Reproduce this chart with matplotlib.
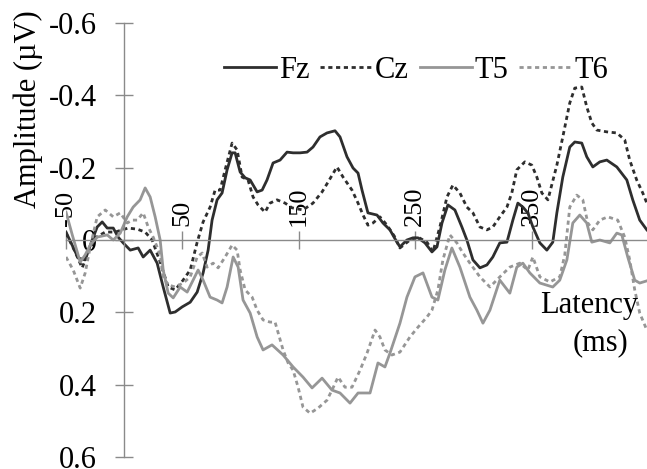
import matplotlib
matplotlib.use("Agg")
import matplotlib.pyplot as plt

plt.rcParams["font.family"] = ["Liberation Serif", "DejaVu Serif"]
plt.rcParams["axes.unicode_minus"] = False

# latency (ms) and amplitude (uV)
fz_ms = [-50, -39.5, -33.5, -27.5, -23.2, -18.9, -14.6, -9.4, -5.2, -0.9, 5.2, 12, 16.3,
         22.3, 28.3, 33.5, 39.5, 43.8, 49.8, 56.7, 62.7, 67.8, 72.1, 75.5, 79.8, 84.1,
         88.4, 92.7, 95.3, 99.6, 103.9, 108.2, 114.2, 118.5, 122.7, 127.9, 133.9, 139.9,
         145.1, 151.1, 157.1, 162.2, 168.2, 174.2, 181.1, 185.4, 191.4, 196.6, 200.9,
         204.3, 209.4, 217.2, 222.3, 228.3, 234.3, 236.9, 242.9, 248.1, 252.4, 258.4,
         264.4, 268.7, 273, 278.1, 284.1, 290.1, 294.4, 299.6, 305.6, 311.6, 316.7,
         322.7, 328.8, 333.9, 338.2, 342.5, 346.8, 351.1, 357.1, 363.1, 368.2, 371.7,
         376.8, 382.8, 387.1, 393.1, 397.4, 402.6, 408.6, 414.6, 423.2, 431.8, 436.9,
         442.9, 449]
fz_uv = [-0.022, 0.050, 0.055, 0.000, -0.036, -0.050, -0.033, -0.033, -0.008, 0.008,
         0.028, 0.022, 0.047, 0.028, 0.064, 0.130, 0.202, 0.199, 0.185, 0.172, 0.144,
         0.091, 0.028, -0.055, -0.111, -0.130, -0.194, -0.241, -0.241, -0.188, -0.172,
         -0.166, -0.133, -0.138, -0.166, -0.213, -0.221, -0.243, -0.241, -0.241, -0.243,
         -0.257, -0.285, -0.296, -0.302, -0.285, -0.230, -0.199, -0.185, -0.138, -0.075,
         -0.069, -0.047, -0.028, 0.006, 0.019, 0.000, -0.006, -0.006, 0.008, 0.033,
         0.019, -0.047, -0.097, -0.083, -0.036, 0.000, 0.055, 0.077, 0.069, 0.047,
         0.008, 0.006, -0.055, -0.102, -0.091, -0.075, -0.036, 0.008, 0.028, 0.006,
         -0.075, -0.174, -0.257, -0.271, -0.268, -0.230, -0.202, -0.216, -0.221, -0.202,
         -0.166, -0.111, -0.055, -0.028]

cz_ms = [-50, -42.9, -36.1, -30.9, -24.9, -16.3, -7.7, -1.7, 3.4, 11.2, 18, 24, 30.9,
         37.8, 43.8, 50.6, 56.7, 62.7, 67.8, 73.8, 78.1, 82.4, 86.7, 92.7, 97, 101.3,
         106.4, 110.7, 115, 121, 125.3, 131.3, 138.2, 144.2, 153.6, 162.2, 170, 175.1,
         182.8, 188, 195.7, 200.9, 205.2, 209.4, 213.7, 219.7, 225.8, 232.6, 236.9,
         245.5, 252.4, 260.1, 265.2, 271.2, 277.3, 282.4, 288.4, 294.4, 299.6, 305.6,
         311.6, 316.7, 322.7, 328.8, 333, 337.3, 344.2, 350.2, 354.5, 358.8, 364,
         371.7, 376.8, 382.8, 387.1, 393.1, 397.4, 401.7, 406, 414.6, 423.2, 430,
         434.3, 440.3, 445.5, 449]
cz_uv = [-0.019, 0.028, 0.077, 0.033, -0.006, -0.022, -0.022, -0.028, -0.033, -0.030,
         -0.022, 0.000, 0.061, 0.130, 0.138, 0.111, 0.083, 0.006, -0.050, -0.091,
         -0.138, -0.138, -0.194, -0.268, -0.249, -0.174, -0.166, -0.119, -0.097, -0.077,
         -0.102, -0.111, -0.102, -0.089, -0.083, -0.102, -0.133, -0.160, -0.202, -0.174,
         -0.138, -0.102, -0.069, -0.041, -0.047, -0.064, -0.041, -0.008, 0.022, 0.000,
         -0.008, 0.006, 0.033, -0.036, -0.119, -0.152, -0.130, -0.091, -0.075, -0.036,
         -0.028, -0.036, -0.064, -0.091, -0.130, -0.194, -0.216, -0.207, -0.174, -0.130,
         -0.111, -0.207, -0.285, -0.379, -0.420, -0.423, -0.368, -0.324, -0.304, -0.299,
         -0.296, -0.277, -0.221, -0.166, -0.130, -0.102]

t5_ms = [-50, -44.6, -37.8, -33.5, -29.2, -23.2, -14.6, -9.4, -3.4, 2.6, 7.7, 13.7, 18,
         22.3, 26.6, 30.9, 33.5, 37.8, 42.1, 48.1, 54.1, 59.2, 63.5, 67.8, 73.8, 79.8,
         84.1, 88.4, 93.6, 97.9, 102.1, 108.2, 114.2, 119.3, 127, 136.5, 145.1, 153.6,
         161.4, 170, 178.5, 185.4, 194, 200.9, 211.2, 218, 224, 228.3, 236.9, 242.9,
         249.8, 256.7, 264.4, 269.5, 275.5, 281.5, 288.4, 297, 303, 308.2, 314.2,
         322.7, 331.3, 337.3, 342.5, 348.5, 357.1, 368.2, 374.2, 380.3, 385.4, 391.4,
         397.4, 401.7, 408.6, 417.2, 423.2, 427.5, 432.6, 438.6, 442.9, 449]
t5_uv = [-0.077, -0.014, 0.061, 0.041, 0.014, -0.008, -0.014, 0.000, -0.019, -0.064,
         -0.091, -0.111, -0.144, -0.119, -0.064, 0.000, 0.083, 0.147, 0.160, 0.130,
         0.144, 0.111, 0.083, 0.111, 0.158, 0.166, 0.174, 0.130, 0.047, 0.075, 0.166,
         0.202, 0.268, 0.304, 0.290, 0.318, 0.351, 0.379, 0.409, 0.382, 0.415, 0.423,
         0.451, 0.423, 0.423, 0.340, 0.351, 0.313, 0.230, 0.158, 0.102, 0.091, 0.158,
         0.166, 0.083, 0.022, 0.075, 0.158, 0.194, 0.230, 0.194, 0.111, 0.147, 0.075,
         0.064, 0.091, 0.119, 0.130, 0.111, 0.055, -0.047, -0.069, -0.047, 0.006, 0.000,
         0.008, -0.019, -0.014, 0.047, 0.111, 0.119, 0.113]

t6_ms = [-50, -43.8, -37.8, -33.5, -29.2, -23.2, -16.3, -9.4, -3.4, 2.6, 6.9, 11.2, 16.3,
         20.6, 24.9, 30.9, 33.5, 37.8, 43.8, 50.6, 56.7, 62.7, 67, 71.2, 76.4, 80.7,
         86.7, 92.7, 97, 99.6, 103.9, 109.9, 114.2, 119.3, 125.3, 129.6, 136.5, 140.8,
         145.1, 149.4, 153.6, 159.7, 166.5, 174.2, 179.4, 183.7, 189.7, 195.7, 202.6,
         208.6, 215.5, 219.7, 224, 230, 236.9, 245.5, 252.4, 260.1, 264.4, 269.5, 273.8,
         279.8, 285.8, 291, 297, 305.6, 314.2, 322.7, 331.3, 339.9, 346.8, 351.1, 357.1,
         365.7, 374.2, 378.5, 382.8, 388.8, 394, 398.3, 402.6, 408.6, 415.5, 424, 430,
         434.3, 438.6, 442.9, 449]
t6_uv = [0.047, 0.083, 0.133, 0.091, 0.019, -0.064, -0.083, -0.064, -0.075, -0.047,
         -0.055, -0.055, -0.075, -0.036, -0.008, 0.041, 0.102, 0.124, 0.130, 0.119,
         0.102, 0.047, 0.036, 0.075, 0.064, 0.077, 0.047, 0.014, 0.028, 0.083, 0.138,
         0.158, 0.194, 0.221, 0.227, 0.227, 0.304, 0.340, 0.360, 0.407, 0.462, 0.479,
         0.465, 0.443, 0.409, 0.379, 0.407, 0.407, 0.360, 0.313, 0.249, 0.268, 0.304,
         0.318, 0.310, 0.268, 0.241, 0.213, 0.194, 0.138, 0.055, -0.014, 0.008, 0.036,
         0.064, 0.102, 0.130, 0.102, 0.075, 0.064, 0.083, 0.047, 0.102, 0.116, 0.102,
         0.041, -0.091, -0.124, -0.111, -0.047, -0.028, -0.055, -0.064, -0.055, -0.008,
         0.055, 0.138, 0.202, 0.249]

x_ticks = [-50, 50, 150, 250, 350]
y_ticks = [-0.6, -0.4, -0.2, 0, 0.2, 0.4, 0.6]
y_labels = ["-0.6", "-0.4", "-0.2", "0", "0.2", "0.4", "0.6"]

dark = "#2e2e2e"
light = "#969696"
axis_grey = "#8a8a8a"
dots = (0, (1.5, 1.3))

fig = plt.figure(figsize=(6.47, 4.69), dpi=100)
ax = fig.add_axes([66 / 647, 1 - 457 / 469, 582 / 647, 434 / 469])

ax.plot(fz_ms, fz_uv, color=dark, lw=2.0, label="Fz")
ax.plot(cz_ms, cz_uv, color=dark, lw=2.0, ls=dots, label="Cz")
ax.plot(t5_ms, t5_uv, color=light, lw=2.0, label="T5")
ax.plot(t6_ms, t6_uv, color=light, lw=2.0, ls=dots, label="T6")

ax.set_xlim(-50, 450)
ax.set_ylim(0.6, -0.6)

# axes cross at (0, 0) like the Excel original
ax.spines["right"].set_visible(False)
ax.spines["bottom"].set_visible(False)
ax.spines["left"].set_position(("data", 0))
ax.spines["top"].set_position(("data", 0))
for s in ["left", "top"]:
    ax.spines[s].set_color(axis_grey)
    ax.spines[s].set_linewidth(1.0)

ax.xaxis.tick_top()
ax.set_xticks(x_ticks)
ax.set_xticklabels([str(t) for t in x_ticks], rotation=90, fontsize=19)
ax.tick_params(axis="x", direction="inout", length=12.5, width=1, color=axis_grey, pad=4)

ax.set_yticks(y_ticks)
ax.set_yticklabels(y_labels, fontsize=22)
ax.tick_params(axis="y", direction="inout", length=13, width=1, color=axis_grey, pad=13)

ax.legend(loc="center", bbox_to_anchor=(416 / 647, 1 - 70 / 469),
          bbox_transform=fig.transFigure, ncol=4, frameon=False, fontsize=22,
          handlelength=1.7, handletextpad=0.1, columnspacing=0.35,
          borderpad=0, borderaxespad=0)

fig.text(28 / 647, 1 - 109 / 469, "Amplitude (µV)", rotation=90,
         ha="center", va="center", fontsize=22)
fig.text(589 / 647, 1 - 305 / 469, "Latency", ha="center", va="center", fontsize=22)
fig.text(601 / 647, 1 - 343 / 469, "(ms)", ha="center", va="center", fontsize=22)

fig.savefig("out.png", dpi=100)
